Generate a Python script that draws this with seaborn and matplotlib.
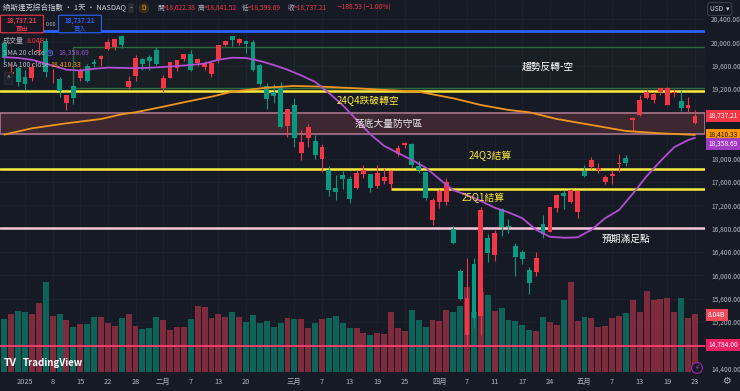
import numpy as np
import pandas as pd
import seaborn as sns
import matplotlib.pyplot as plt
from matplotlib.patches import FancyBboxPatch, Rectangle

sns.set_theme(style="dark")
plt.rcParams['font.family'] = ['Noto Sans CJK TC', 'DejaVu Sans']
plt.rcParams['axes.unicode_minus'] = False

BG = "#161a25"
UP = "#f23645"       # 紅 = 收 > 開
DOWN = "#089981"
VOL_UP = "#7f2b3e"
VOL_DOWN = "#0d6357"
TXT = "#b2b5be"

# 交易日 2024-12-27 .. 2025-05-23
dates = pd.bdate_range("2024-12-27", "2025-05-23")
holidays = pd.to_datetime(["2025-01-01", "2025-01-09", "2025-01-20", "2025-02-17", "2025-04-18"])
dates = dates[~dates.isin(holidays)]

open_ = [19990, 19460, 19550, 19403, 19395, 19851, 20030, 19468, 19374, 18950, 19250, 19380, 19600, 19670,
         19705, 19880, 19926, 20100, 19234, 19418, 19720, 19740, 19874,
         19215, 19395, 19560, 19720, 19800, 19650, 19570, 19450, 19700, 19960, 20100, 19990, 20030, 20000,
         19604, 19256, 19150, 19220, 18570,
         18930, 18100, 18350, 18300, 17990, 17800, 17500, 17714, 17650, 17500, 17740, 17730, 17540, 17620,
         17560, 18080, 18230, 18260, 17870, 17770, 16950,
         17250, 17250, 16800, 16080, 14975, 16200, 15300, 16634, 16356, 17130, 16850, 16500, 16400, 16082,
         16061, 16875, 16749, 17161, 17420, 17264, 17092,
         17790, 17865, 17800, 17607, 17700, 17905, 18010, 18660, 18750, 19040, 19010, 19150, 18930, 19125,
         18990, 18880, 18622]
high = [20010, 19620, 19590, 19517, 19638, 20007, 20070, 19546, 19406, 19100, 19290, 19550, 19620, 19720,
        19790, 20060, 20060, 20118, 19420, 19785, 19730, 19784, 19913,
        19430, 19670, 19700, 19800, 19862, 19730, 19680, 19680, 19950, 20045, 20110, 20071, 20040, 20040,
        19625, 19300, 19282, 19320, 18860,
        19040, 18500, 18600, 18400, 18250, 17880, 17720, 17800, 17700, 17800, 17900, 17740, 17900, 17850,
        17810, 18230, 18290, 18270, 17960, 17780, 17330,
        17480, 17670, 16850, 16100, 16292, 16300, 17180, 16700, 16780, 17150, 16960, 16560, 16430, 16150,
        16400, 17036, 17180, 17400, 17470, 17480, 17470,
        17900, 18030, 17920, 17720, 17800, 18090, 18060, 18720, 19100, 19190, 19140, 19220, 19230, 19200,
        19181, 19060, 18841]
low = [19630, 19280, 19250, 19175, 19340, 19785, 19410, 19300, 19058, 18830, 18940, 19330, 19320, 19580,
       19600, 19875, 19866, 19910, 19204, 19335, 19520, 19520, 19611,
       19141, 19380, 19510, 19680, 19500, 19590, 19520, 19400, 19640, 19940, 19940, 19946, 19810, 19500,
       19250, 18850, 18950, 18530, 18370,
       18209, 17977, 18200, 17990, 17768, 17360, 17300, 17480, 17240, 17480, 17670, 17430, 17500, 17560,
       17460, 18050, 18180, 17850, 17760, 17300, 16855,
       17150, 17200, 16540, 15575, 14784, 15100, 14980, 16230, 16242, 16671, 16730, 15985, 16200, 15670,
       15980, 16640, 16740, 17080, 17130, 17240, 16978,
       17690, 17830, 17760, 17560, 17560, 17780, 17880, 18480, 18740, 19020, 18952, 19090, 18930, 19060,
       18820, 18809, 18600]
close = [19722, 19487, 19311, 19280, 19570, 19864, 19490, 19479, 19162, 19088, 19044, 19511, 19338, 19630,
         19757, 20009, 20054, 19954, 19342, 19734, 19632, 19681, 19627,
         19391, 19654, 19692, 19791, 19523, 19714, 19643, 19650, 19946, 20027, 20041, 20056, 19962, 19524,
         19287, 19026, 19075, 18544, 18847,
         18350, 18286, 18553, 18070, 18196, 17468, 17436, 17648, 17303, 17754, 17809, 17504, 17751, 17692,
         17784, 18189, 18272, 17900, 17805, 17323, 17299,
         17450, 17601, 16551, 15588, 15603, 15268, 17125, 16387, 16724, 16832, 16823, 16307, 16287, 15870,
         16300, 16708, 17166, 17383, 17366, 17461, 17446,
         17711, 17978, 17844, 17690, 17738, 17929, 17929, 18708, 19010, 19146, 19112, 19211, 19215, 19143,
         18873, 18926, 18737]
# 成交量 (十億)
volume = [7.35, 8.04, 8.46, 8.32, 8.04, 9.57, 12.48, 7.77, 8.04, 7.21, 6.24, 6.66, 6.66, 7.63,
          7.63, 6.80, 6.38, 7.49, 8.04, 6.38, 5.96, 6.10, 7.63,
          7.21, 5.83, 6.24, 6.24, 7.35, 9.15, 9.02, 7.49, 8.04, 7.63, 8.32, 7.63, 6.93, 7.91,
          6.80, 7.07, 6.24, 6.80, 7.49,
          7.35, 7.35, 6.10, 6.80, 7.35, 7.49, 7.77, 6.80, 6.10, 6.10, 5.41, 5.13, 5.41, 5.27,
          8.32, 6.10, 5.69, 8.60, 7.21, 6.24, 7.21,
          7.07, 8.60, 8.32, 9.15, 11.8, 8.32, 11.1, 10.7, 8.46, 8.88, 7.21, 7.07, 6.52, 5.83,
          5.69, 7.63, 6.93, 6.52, 9.99, 12.48, 7.07,
          7.63, 7.49, 6.24, 6.38, 7.49, 7.77, 8.18, 9.99, 8.32, 11.2, 9.99, 10.1, 10.3, 8.32,
          10.3, 7.49, 8.04]

sma20_dates = ["2024-12-27", "2024-12-31", "2025-01-03", "2025-01-08", "2025-01-13", "2025-01-15",
               "2025-01-17", "2025-01-22", "2025-01-24", "2025-01-28", "2025-01-30", "2025-02-03",
               "2025-02-05", "2025-02-07", "2025-02-11", "2025-02-13", "2025-02-18", "2025-02-20",
               "2025-02-24", "2025-02-26", "2025-02-28", "2025-03-04", "2025-03-06", "2025-03-10",
               "2025-03-12", "2025-03-14", "2025-03-18", "2025-03-20", "2025-03-24", "2025-03-26",
               "2025-03-28", "2025-04-01", "2025-04-03", "2025-04-07", "2025-04-09", "2025-04-11",
               "2025-04-15", "2025-04-17", "2025-04-22", "2025-04-24", "2025-04-28", "2025-04-30",
               "2025-05-02", "2025-05-06", "2025-05-08", "2025-05-12", "2025-05-14", "2025-05-16",
               "2025-05-20", "2025-05-22", "2025-05-23"]
sma20 = [19745, 19730, 19700, 19600, 19530, 19515, 19545, 19565, 19560, 19555, 19562, 19575,
         19592, 19610, 19635, 19700, 19735, 19730, 19680, 19610, 19530, 19430, 19320, 19130,
         18920, 18670, 18420, 18220, 18100, 17980, 17850, 17650, 17460, 17378, 17275, 17160,
         17080, 16980, 16780, 16660, 16645, 16650, 16780, 16980, 17120, 17400, 17700, 17960,
         18200, 18320, 18359]

sma100_dates = ["2024-12-27", "2025-01-03", "2025-01-13", "2025-01-21", "2025-01-24", "2025-01-28",
                "2025-02-03", "2025-02-06", "2025-02-12", "2025-02-18", "2025-02-25", "2025-03-03",
                "2025-03-07", "2025-03-14", "2025-03-20", "2025-03-27", "2025-04-03", "2025-04-09",
                "2025-04-15", "2025-04-21", "2025-04-25", "2025-05-02", "2025-05-09", "2025-05-16",
                "2025-05-23"]
sma100 = [18415, 18523, 18609, 18683, 18764, 18798, 18894, 18970, 19066, 19152, 19221, 19250,
          19238, 19210, 19181, 19152, 19038, 18923, 18838, 18798, 18683, 18580, 18477, 18437, 18410]

tick_dates = ["2025-01-02", "2025-01-08", "2025-01-15", "2025-01-22", "2025-01-28", "2025-02-03",
              "2025-02-07", "2025-02-13", "2025-02-20", "2025-03-03", "2025-03-07", "2025-03-13",
              "2025-03-19", "2025-03-25", "2025-04-01", "2025-04-07", "2025-04-11", "2025-04-17",
              "2025-04-24", "2025-05-01", "2025-05-07", "2025-05-13", "2025-05-19", "2025-05-23"]
tick_labels = ["2025", "8", "15", "22", "28", "二月", "7", "13", "20", "三月", "7", "13", "19", "25",
               "四月", "7", "11", "17", "24", "五月", "7", "13", "19", "23"]
price_ticks = [14400, 14800, 15200, 15600, 16000, 16400, 16800, 17200, 17600, 18000, 18400,
               18800, 19200, 19600, 20000, 20400]
hidden_ticks = [14800, 18400, 18800]   # covered by price tags on the right

df = pd.DataFrame({"date": dates, "open": open_, "high": high, "low": low, "close": close,
                   "volume": volume})
df["pos"] = np.arange(len(df))
up = df["close"] >= df["open"]

def pos_of(ds):
    return dates.get_indexer(pd.to_datetime(ds))

fig = plt.figure(figsize=(7.4, 3.91), dpi=100, facecolor=BG)
ax = fig.add_axes([0, 19 / 391, 705 / 740, 372 / 391])
ax2 = ax.twinx()
ax.set_zorder(2)
ax2.set_zorder(1)
ax.patch.set_visible(False)
ax2.patch.set_visible(True)
ax2.patch.set_facecolor(BG)

XL, XR = -0.62, 101.45
YB, YT = 14339, 20726
ax.set_xlim(XL, XR)
ax.set_ylim(YB, YT)
ax2.set_ylim(0, 51.6)

# grid (on volume axis so it sits behind everything)
for p in pos_of(tick_dates):
    ax2.axvline(p, color="#1e2230", lw=0.6, zorder=0)
for t in price_ticks:
    f = (t - YB) / (YT - YB)
    ax2.plot([0, 1], [f, f], transform=ax2.transAxes, color="#1e2230", lw=0.6, zorder=0)

# volume
ax2.bar(df["pos"], df["volume"], width=0.86, color=np.where(up, VOL_UP, VOL_DOWN), linewidth=0, zorder=1)
ax2.set_yticks([])

# drawings
ax.axhspan(18430, 18780, facecolor="#3d2731", edgecolor="#a8768a", lw=1.2, zorder=1)
ax.add_patch(Rectangle((pos_of(["2025-01-14"])[0], 19221), 200, 705, facecolor="#2e7d32",
                       alpha=0.06, edgecolor="none", zorder=1))
ax.add_patch(Rectangle((pos_of(["2025-01-14"])[0], 19221), 200, 705, facecolor="none",
                       edgecolor="#2f6b3a", lw=1.0, zorder=1))
ax.axhline(20190, color="#2962ff", lw=2, zorder=2)
ax.axhline(19165, color="#ffeb3b", lw=1.8, zorder=2)
ax.axhline(17825, color="#ffeb3b", lw=1.8, zorder=2)
ax.hlines(17481, pos_of(["2025-03-21"])[0], XR, color="#ffeb3b", lw=1.8, zorder=2)
ax.axhline(16806, color="#f8c8d8", lw=1.8, zorder=2)
ax.axhline(14784, color="#ff3d6e", lw=1.3, zorder=2)

# candles
colors = np.where(up, UP, DOWN)
body_low = df[["open", "close"]].min(axis=1)
body_h = (df["close"] - df["open"]).abs().clip(lower=12)
ax.vlines(df["pos"], df["low"], df["high"], colors=colors, lw=0.8, zorder=3)
ax.bar(df["pos"], body_h, bottom=body_low, width=0.7, color=colors, linewidth=0, zorder=4)

# moving averages
sns.lineplot(x=pos_of(sma100_dates), y=sma100, ax=ax, color="#f0961e", lw=1.3, zorder=5)
sns.lineplot(x=pos_of(sma20_dates), y=sma20, ax=ax, color="#b04fd0", lw=1.3, zorder=5)

# annotations
ann = dict(fontsize=7, ha="center", va="center", zorder=6)
ax.text(78.7, 19576, "趨勢反轉-空", color="white", **ann)
ax.text(52.7, 18983, "24Q4跌破轉空", color="#ffeb3b", **ann)
ax.text(55.7, 18606, "落底大量防守區", color="#e8e8ea", **ann)
ax.text(70.4, 18048, "24Q3結算", color="#ffeb3b", **ann)
ax.text(69.4, 17318, "25Q1結算", color="#ffeb3b", **ann)
ax.text(90.0, 16631, "預期滿足點", color="white", **ann)

# axes styling
for a in (ax, ax2):
    for s in a.spines.values():
        s.set_visible(False)
ax.set_xlabel("")
ax.set_ylabel("")
ax.yaxis.tick_right()
ax.set_yticks(price_ticks)
ax.set_yticklabels(["" if t in hidden_ticks else f"{t:,.2f}" for t in price_ticks])
ax.tick_params(axis="y", length=0, pad=4.5, labelsize=4.8, labelcolor=TXT)
ax.set_xticks(pos_of(tick_dates))
ax.set_xticklabels(tick_labels)
ax.tick_params(axis="x", length=0, pad=4, labelsize=5.3, labelcolor=TXT)
ax.grid(False)
ax2.grid(False)

def fx(px):
    return px / 740

def fy(py):
    return 1 - py / 391

def tag(py, text, fc, tc="white"):
    fig.text(fx(708), fy(py), text, fontsize=4.8, color=tc, va="center", ha="left", zorder=10,
             bbox=dict(boxstyle="square,pad=0.35", fc=fc, ec="none"))

tag(116, "18,737.21", UP)
tag(135, "18,410.33", "#ff9800", "#131722")
tag(144, "18,358.69", "#a23bc4")
tag(315, "8.04B", "#f04a5a")
tag(345, "14,784.00", "#e91e63")
fig.text(fx(710), fy(9), "USD  ▾", fontsize=4.8, color="#d1d4dc", va="center", ha="left",
         bbox=dict(boxstyle="round,pad=0.35", fc=BG, ec="#434651", lw=0.6))
fig.text(fx(726), fy(381), "⚙", fontsize=7, color=TXT, va="center", ha="center")
fig.text(fx(697), fy(368), "⚡", fontsize=5, color="#b04fd0", va="center", ha="center",
         bbox=dict(boxstyle="circle,pad=0.2", fc=BG, ec="#9c27b0", lw=0.8))

# header
fig.text(fx(3), fy(8), "納斯達克綜合指數 · 1天 · NASDAQ", fontsize=5.4, color="#d1d4dc", va="center")
fig.text(fx(131), fy(8), "–", fontsize=4.5, color=TXT, va="center", ha="center",
         bbox=dict(boxstyle="round,pad=0.15", fc="#2a2e39", ec="none"))
fig.text(fx(144), fy(8), "D", fontsize=4.5, color="#ff9800", va="center", ha="center",
         bbox=dict(boxstyle="circle,pad=0.2", fc="#3a2e1a", ec="none"))
for x0, lab, x1, val in [(157, "開", 163, "=18,622.38"), (198, "高", 204, "=18,841.52"),
                         (242, "低", 248, "=18,599.69"), (288, "收", 294, "=18,737.21")]:
    fig.text(fx(x0), fy(8), lab, fontsize=4.8, color=TXT, va="center")
    fig.text(fx(x1), fy(8), val, fontsize=4.8, color=UP, va="center")
fig.text(fx(338), fy(8), "−188.53 (−1.00%)", fontsize=4.8, color=UP, va="center")

# buy/sell buttons
for x0, col, word in [(2, UP, "賣出"), (60, "#2962ff", "買入")]:
    fig.patches.append(FancyBboxPatch((fx(x0), fy(32)), fx(40), 16 / 391, boxstyle="round,pad=0.002",
                                      transform=fig.transFigure, fc=BG, ec=col, lw=0.8, zorder=9))
    fig.text(fx(x0 + 20), fy(21), "18,737.21", fontsize=4.6, color=col, ha="center", va="center",
             weight="bold", zorder=10)
    fig.text(fx(x0 + 20), fy(28), word, fontsize=4.6, color=col, ha="center", va="center", zorder=10)
fig.text(fx(51), fy(24), "0.00", fontsize=4.0, color=TXT, ha="center", va="center")

# legend
fig.text(fx(3), fy(41), "成交量", fontsize=5, color=TXT, va="center")
fig.text(fx(27), fy(41), "8.04B", fontsize=5, color=UP, va="center")
fig.text(fx(3), fy(53), "SMA 20 close", fontsize=5, color=TXT, va="center")
fig.text(fx(50), fy(53), "●", fontsize=3, color="#3b3f8f", ha="center", va="center",
         bbox=dict(boxstyle="circle,pad=0.15", fc=BG, ec="#5c60c8", lw=0.7))
fig.text(fx(58), fy(53), "18,358.69", fontsize=5, color="#9c4dcc", va="center")
fig.text(fx(3), fy(65), "SMA 100 close", fontsize=5, color=TXT, va="center")
fig.text(fx(50), fy(65), "18,410.33", fontsize=5, color="#ff9800", va="center")
fig.text(fx(8), fy(78), "^", fontsize=5, color=TXT, ha="center", va="center",
         bbox=dict(boxstyle="square,pad=0.3", fc="#1e222d", ec="#2a2e39", lw=0.5))

# logo
fig.text(fx(4), fy(363), "TV", fontsize=7.5, color="white", weight="bold", va="center")
fig.text(fx(23), fy(363), "TradingView", fontsize=7, color="white", weight="bold", va="center")

fig.savefig("out.png", dpi=100, facecolor=BG)
